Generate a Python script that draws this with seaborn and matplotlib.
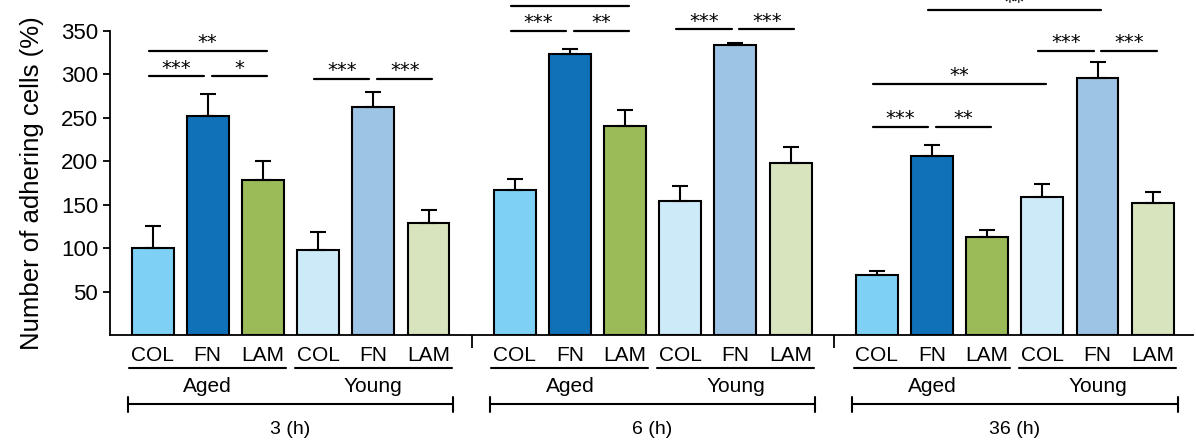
import numpy as np
import pandas as pd
import matplotlib
matplotlib.use("Agg")
import matplotlib.pyplot as plt
import seaborn as sns

# data
times = ["3 (h)", "6 (h)", "36 (h)"]
ages = ["Aged", "Young"]
substrates = ["COL", "FN", "LAM"]

values_3h = [100, 252, 178, 98, 262, 129]
err_3h = [25, 25, 22, 20, 18, 15]
values_6h = [167, 324, 241, 154, 334, 198]
err_6h = [13, 5, 18, 18, 2, 18]
values_36h = [69, 206, 113, 159, 296, 152]
err_36h = [5, 13, 8, 15, 18, 13]

# significance brackets: (time group, bar i, bar j, height, label)
brackets = [
    (0, 0, 2, 327, "**"), (0, 0, 1, 298, "***"), (0, 1, 2, 298, "*"),
    (0, 3, 4, 295, "***"), (0, 4, 5, 295, "***"),
    (1, 0, 2, 379, ""), (1, 0, 1, 350, "***"), (1, 1, 2, 350, "**"),
    (1, 3, 4, 352, "***"), (1, 4, 5, 352, "***"),
    (2, 1, 4, 374, "**"), (2, 3, 4, 327, "***"), (2, 4, 5, 327, "***"),
    (2, 0, 3, 289, "**"), (2, 0, 1, 240, "***"), (2, 1, 2, 240, "**"),
]

colors = {
    "Aged COL": "#7fd0f5", "Aged FN": "#1070b8", "Aged LAM": "#9bbb59",
    "Young COL": "#cdeaf8", "Young FN": "#9dc4e4", "Young LAM": "#d8e4bd",
}

sns.set_style("ticks")
plt.rcParams["font.family"] = ["Liberation Sans", "DejaVu Sans"]
for key in ["text.color", "axes.labelcolor", "xtick.color", "ytick.color", "axes.edgecolor"]:
    plt.rcParams[key] = "black"

# build the table
gap = 0.56
rows = []
for g, (vals, errs) in enumerate([(values_3h, err_3h), (values_6h, err_6h), (values_36h, err_36h)]):
    for k in range(6):
        rows.append({
            "time": times[g],
            "cond": ages[k // 3] + " " + substrates[k % 3],
            "pos": g * (6 + gap) + k,
            "value": vals[k],
            "err": errs[k],
        })
df = pd.DataFrame(rows)

fig = plt.figure(figsize=(11.96, 4.41), dpi=100)
ax = fig.add_axes([0.092, 0.2404, 0.9055, 0.6893])

sns.barplot(data=df, x="pos", y="value", hue="cond", palette=colors,
            native_scale=True, dodge=False, width=0.76, edgecolor="black",
            linewidth=1.5, saturation=1, legend=False, ax=ax)

ax.errorbar(df["pos"], df["value"], yerr=[np.zeros(len(df)), df["err"]],
            fmt="none", ecolor="black", elinewidth=1.5, capsize=6, capthick=1.5, zorder=1)

ax.set_xlim(-0.77, 18.85)
ax.set_ylim(0, 350)
ax.set_yticks(range(50, 351, 50))
ax.set_ylabel("Number of adhering cells (%)", fontsize=18.5, labelpad=12)
ax.set_xlabel("")
sns.despine(ax=ax)
for s in ["left", "bottom"]:
    ax.spines[s].set_linewidth(1.3)

ax.set_xticks(df["pos"])
ax.set_xticklabels([substrates[k % 3] for k in range(len(df))])
ax.tick_params(axis="x", which="major", length=0, pad=8, labelsize=15)
ax.tick_params(axis="y", length=5, width=1.3, labelsize=16)
seps = [(5 + 6 + gap) / 2, (6 + gap) + (5 + 6 + gap) / 2]
ax.set_xticks(seps, minor=True)
ax.tick_params(axis="x", which="minor", length=9, width=1.3, direction="out")

# significance lines
off = 0.07
for g, i, j, h, lab in brackets:
    base = g * (6 + gap)
    left = base + i - off
    right = base + j + off
    for g2, i2, j2, h2, _ in brackets:
        if g2 == g and h2 == h:
            if j2 == i:
                left = base + i + off
            if i2 == j:
                right = base + j - off
    ax.plot([left, right], [h, h], color="black", lw=1.6, clip_on=False)
    if lab:
        ax.text((left + right) / 2, h + 3, lab, ha="center", va="baseline",
                fontsize=14, family="DejaVu Sans", clip_on=False)

# group labels under the axis
for g in range(3):
    base = g * (6 + gap)
    for a in range(2):
        x0 = base + 3 * a - 0.42
        x1 = base + 3 * a + 2 + 0.42
        ax.plot([x0, x1], [-38.5, -38.5], color="black", lw=1.5, clip_on=False)
        ax.text(base + 3 * a + 1, -59, ages[a], ha="center", va="center",
                fontsize=15, clip_on=False)
    x0 = base - 0.45
    x1 = base + 5 + 0.45
    ax.plot([x0, x1], [-80, -80], color="black", lw=1.5, clip_on=False)
    ax.plot([x0, x0], [-89, -71], color="black", lw=1.5, clip_on=False)
    ax.plot([x1, x1], [-89, -71], color="black", lw=1.5, clip_on=False)
    ax.text(base + 2.5, -109, times[g], ha="center", va="center",
            fontsize=14, clip_on=False)

fig.savefig("out.png", dpi=100)
